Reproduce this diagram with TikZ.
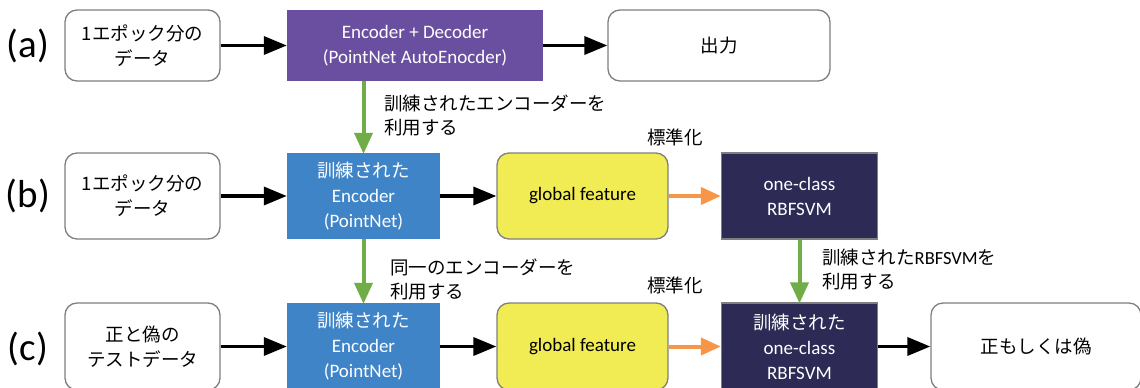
\documentclass[tikz,border=0pt]{standalone}
\usepackage{fontspec}
\setmainfont{Carlito}
\newfontfamily\jp{Noto Sans CJK JP}
\usetikzlibrary{arrows.meta}
\definecolor{bordergray}{HTML}{7F7F7F}
\definecolor{encpurple}{HTML}{6A4FA0}
\definecolor{encblue}{HTML}{4084C8}
\definecolor{featyellow}{HTML}{F2EC54}
\definecolor{svmnavy}{HTML}{2D2B55}
\definecolor{arrgreen}{HTML}{70AD47}
\definecolor{arrorange}{HTML}{F79646}
\newcommand{\jpt}[1]{{\jp\fontsize{18.5}{25}\selectfont #1}}
\tikzset{
  base/.style={align=center, inner sep=0pt, font=\fontsize{19}{25}\selectfont},
  whitebox/.style={base, draw=bordergray, line width=1.3pt, rounded corners=12pt, fill=white},
  purplebox/.style={base, fill=encpurple, text=white},
  bluebox/.style={base, fill=encblue, text=white},
  yellowbox/.style={base, draw=bordergray, line width=1.3pt, rounded corners=12pt, fill=featyellow},
  navybox/.style={base, draw=bordergray, line width=1.3pt, fill=svmnavy, text=white},
  blackarrow/.style={line width=3.5pt, -{Triangle[length=23pt,width=18pt]}},
  greenarrow/.style={draw=arrgreen, line width=4pt, -{Triangle[length=21pt,width=18pt]}, shorten >=-1pt},
  orangearrow/.style={draw=arrorange, line width=4pt, -{Triangle[length=20pt,width=17pt]}},
  rowlabel/.style={font=\fontsize{39}{40}\selectfont, inner sep=0pt},
  note/.style={align=left, inner sep=0pt, font=\jp\fontsize{18.5}{24}\selectfont},
}
\begin{document}
\begin{tikzpicture}[x=1pt,y=-1pt]
\useasboundingbox (0,0) rectangle (1140,388);
% row (a)
\node[rowlabel] (la) at (28,45.5) {(a)};
\node[whitebox, minimum width=155pt, minimum height=71pt] (a1) at (142.5,45.5) {\jpt{1エポック分の}\\\jpt{データ}};
\node[purplebox, minimum width=256pt, minimum height=71pt] (aenc) at (415,45.5) {Encoder + Decoder\\(PointNet AutoEnocder)};
\node[whitebox, minimum width=222pt, minimum height=71pt] (aout) at (719,45.5) {\jpt{出力}};
\draw[blackarrow] (a1) -- (aenc);
\draw[blackarrow] (aenc) -- (aout);
% row (b)
\node[rowlabel] (lb) at (28,196) {(b)};
\node[whitebox, minimum width=155pt, minimum height=86pt] (b1) at (142.5,196) {\jpt{1エポック分の}\\\jpt{データ}};
\node[bluebox, minimum width=153pt, minimum height=86pt] (benc) at (363.5,196) {\jpt{訓練された}\\Encoder\\(PointNet)};
\node[yellowbox, minimum width=171pt, minimum height=86pt] (bfeat) at (582.5,196) {global feature};
\node[navybox, minimum width=156pt, minimum height=86pt] (bsvm) at (799.5,196) {one-class\\RBFSVM};
\draw[blackarrow] (b1) -- (benc);
\draw[blackarrow] (benc) -- (bfeat);
\draw[orangearrow] (bfeat) -- (bsvm);
\node[note, anchor=center] (nb) at (675,137) {標準化};
% row (c)
\node[rowlabel] (lc) at (28,349) {(c)};
\node[whitebox, minimum width=155pt, minimum height=87pt] (c1) at (142.5,346.5) {\jpt{正と偽の}\\\jpt{テストデータ}};
\node[bluebox, minimum width=153pt, minimum height=87pt] (cenc) at (363.5,346.5) {\jpt{訓練された}\\Encoder\\(PointNet)};
\node[yellowbox, minimum width=171pt, minimum height=87pt] (cfeat) at (582.5,346.5) {global feature};
\node[navybox, minimum width=156pt, minimum height=87pt] (csvm) at (799.5,346.5) {\jpt{訓練された}\\one-class\\RBFSVM};
\node[whitebox, minimum width=210pt, minimum height=87pt] (cout) at (1036,346.5) {\jpt{正もしくは偽}};
\draw[blackarrow] (c1) -- (cenc);
\draw[blackarrow] (cenc) -- (cfeat);
\draw[orangearrow] (cfeat) -- (csvm);
\draw[blackarrow] (csvm) -- (cout);
\node[note, anchor=center] (nc) at (675,285) {標準化};
% green connectors
\draw[greenarrow] (benc.north |- aenc.south) -- (benc.north);
\node[note, anchor=west] (ga) at (384,115) {訓練されたエンコーダーを\\利用する};
\draw[greenarrow] (benc.south) -- (cenc.north);
\node[note, anchor=west] (gb) at (390,279.5) {同一のエンコーダーを\\利用する};
\draw[greenarrow] (bsvm.south) -- (csvm.north);
\node[note, anchor=west] (gc) at (822,270) {訓練された{\fontspec{Carlito}RBFSVM}を\\利用する};
\end{tikzpicture}
\end{document}
